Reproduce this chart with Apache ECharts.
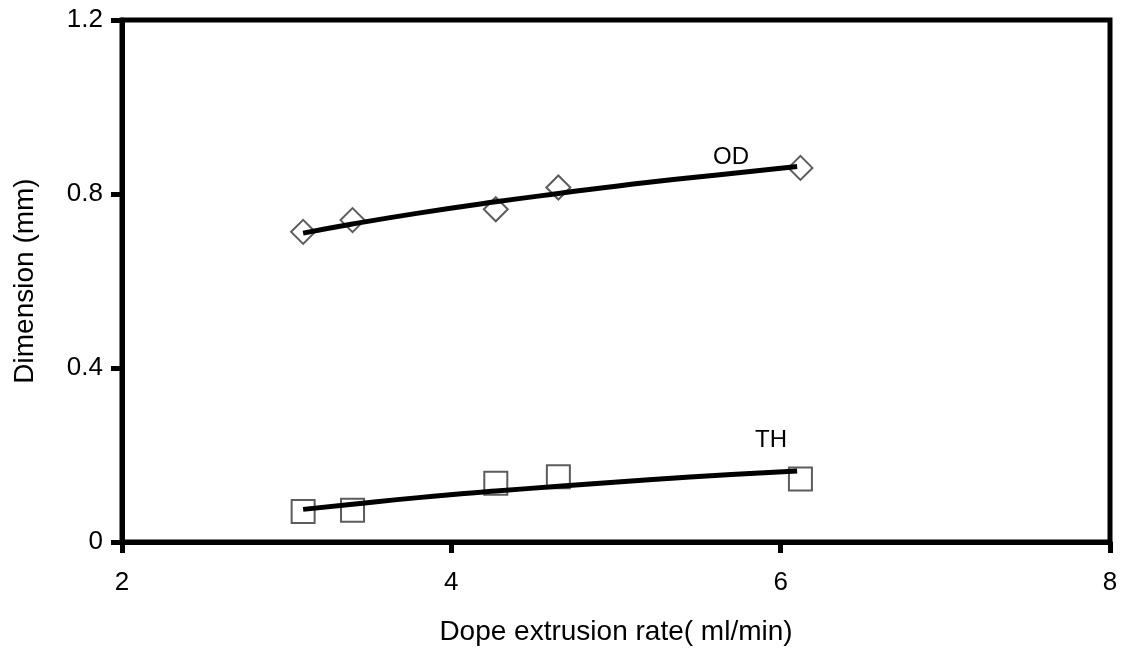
<!DOCTYPE html>
<html>
<head>
<meta charset="utf-8">
<script src="https://cdn.jsdelivr.net/npm/echarts@6/dist/echarts.min.js"></script>
<style>
  html, body { margin: 0; padding: 0; background: #fff; }
  #main { width: 1125px; height: 652px; }
</style>
</head>
<body>
<div id="main"></div>
<script>
// measured points
var rateOD = [3.1, 3.4, 4.27, 4.65, 6.12];
var valOD = [0.713, 0.740, 0.765, 0.815, 0.860];
var rateTH = [3.1, 3.4, 4.27, 4.65, 6.12];
var valTH = [0.070, 0.073, 0.135, 0.150, 0.145];

// trend lines
var trendX = [3.1, 3.4, 3.8, 4.27, 4.65, 5.2, 5.7, 6.1];
var trendOD = [0.710, 0.731, 0.756, 0.782, 0.801, 0.827, 0.847, 0.863];
var trendTH = [0.075, 0.087, 0.102, 0.117, 0.128, 0.143, 0.155, 0.163];

function pairs(xs, ys) {
    return xs.map(function (x, i) { return [x, ys[i]]; });
}

var font = '"Liberation Sans", Arial, sans-serif';

var chart = echarts.init(document.getElementById('main'));

option = {
    backgroundColor: '#fff',
    animation: false,
    grid: {
        left: 122,
        right: 15,
        top: 20,
        bottom: 110,
        show: true,
        borderColor: '#000',
        borderWidth: 5
    },
    xAxis: {
        type: 'value',
        min: 2,
        max: 8,
        interval: 2,
        name: 'Dope extrusion rate( ml/min)',
        nameLocation: 'middle',
        nameGap: 76,
        nameTextStyle: { fontFamily: font, fontSize: 28, color: '#000' },
        axisLine: { show: true, lineStyle: { color: '#000', width: 5 } },
        axisTick: { show: true, inside: false, length: 11, lineStyle: { color: '#000', width: 5 } },
        axisLabel: { fontFamily: font, fontSize: 26, color: '#000', margin: 28 },
        splitLine: { show: false }
    },
    yAxis: {
        type: 'value',
        min: 0,
        max: 1.2,
        interval: 0.4,
        name: 'Dimension (mm)',
        nameLocation: 'middle',
        nameGap: 83,
        nameTextStyle: { fontFamily: font, fontSize: 28, color: '#000' },
        axisLine: { show: true, lineStyle: { color: '#000', width: 5 } },
        axisTick: { show: true, inside: false, length: 11, lineStyle: { color: '#000', width: 5 } },
        axisLabel: {
            fontFamily: font, fontSize: 26, color: '#000', margin: 19,
            formatter: function (v) { return v === 0 ? '0' : v.toFixed(1); }
        },
        splitLine: { show: false }
    },
    graphic: [
        { type: 'text', left: 713, top: 145, style: { text: 'OD', font: '24px ' + font, fill: '#000' } },
        { type: 'text', left: 755, top: 428, style: { text: 'TH', font: '24px ' + font, fill: '#000' } }
    ],
    series: [
        {
            name: 'OD',
            type: 'scatter',
            data: pairs(rateOD, valOD),
            symbol: 'diamond',
            symbolSize: [24, 24],
            itemStyle: { color: 'rgba(255,255,255,0)', borderColor: '#333', borderWidth: 2 },
            z: 3
        },
        {
            name: 'TH',
            type: 'scatter',
            data: pairs(rateTH, valTH),
            symbol: 'rect',
            symbolSize: [23, 23],
            itemStyle: { color: 'rgba(255,255,255,0)', borderColor: '#333', borderWidth: 2 },
            z: 3
        },
        {
            name: 'OD trend',
            type: 'line',
            data: pairs(trendX, trendOD),
            smooth: true,
            showSymbol: false,
            lineStyle: { color: '#000', width: 5 },
            z: 4
        },
        {
            name: 'TH trend',
            type: 'line',
            data: pairs(trendX, trendTH),
            smooth: true,
            showSymbol: false,
            lineStyle: { color: '#000', width: 5 },
            z: 4
        }
    ]
};

chart.setOption(option);
</script>
</body>
</html>
